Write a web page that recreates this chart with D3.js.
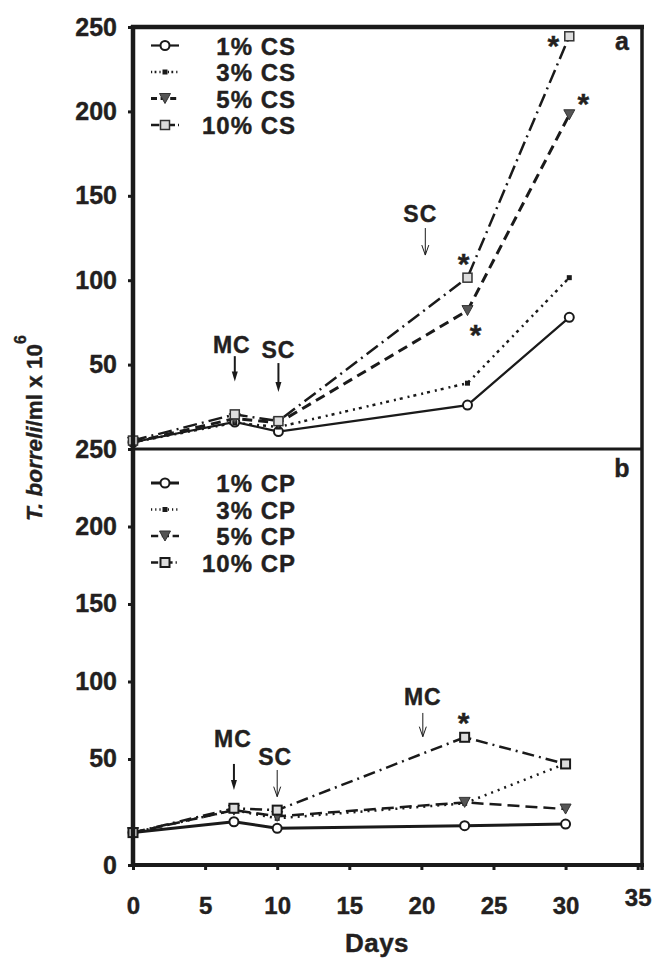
<!DOCTYPE html>
<html>
<head>
<meta charset="utf-8">
<script src="https://cdn.jsdelivr.net/npm/d3@7"></script>
<style>
  body { margin: 0; background: #fff; }
  text { font-family: "Liberation Sans", Arial, sans-serif; font-weight: bold; fill: #231f20;
         stroke: #231f20; stroke-width: 0.4px; }
</style>
</head>
<body>
<svg id="chart" width="654" height="960"></svg>
<script>
// sampling days
const days = [0, 7, 10, 23, 30];

// panel a : CS
const csLabels = ["1% CS", "3% CS", "5% CS", "10% CS"];
const cs1 = [4, 16, 10.3, 26, 78];
const cs3 = [4, 15.5, 13, 39, 101.5];
const cs5 = [4, 18, 15.5, 82, 198];
const cs10 = [5, 20.5, 16.5, 101.5, 244.5];

// panel b : CP
const cpLabels = ["1% CP", "3% CP", "5% CP", "10% CP"];
const cp1 = [2.5, 9.5, 5.3, 7, 8];
const cp3 = [2.5, 17, 11.7, 21.4, 47];
const cp5 = [2.5, 17, 13, 22, 17.7];
const cp10 = [2.5, 18.2, 17, 64, 46.8];

// ticks
const yTicks = [50, 100, 150, 200, 250];
const xTicks = [0, 5, 10, 15, 20, 25, 30, 35];

// arrows (MC / SC) in data units of each panel
const notesA = [
  { text: "MC", day: 7, label: 57, from: 55, to: 40, thick: true, dx: -3 },
  { text: "SC", day: 10, label: 53.7, from: 50.9, to: 33.8, thick: true, dx: 0 },
  { text: "SC", day: 20.1, label: 134.5, from: 130.9, to: 114.9, thick: false, dx: -5 }
];
const notesB = [
  { text: "MC", day: 7, label: 57.9, from: 46.8, to: 30, thick: true, dx: -1 },
  { text: "SC", day: 10, label: 46.1, from: 42.9, to: 25.7, thick: false, dx: -2 },
  { text: "MC", day: 20.1, label: 84.8, from: 79.7, to: 64.4, thick: false, dx: 0 }
];
// significance stars: series index, day index
const starsA = [{ s: 3, i: 4, dx: -16, dy: 3 }, { s: 2, i: 4, dx: 14, dy: -18 },
                { s: 3, i: 3, dx: -4, dy: -21 }, { s: 2, i: 3, dx: 8, dy: 17 }];
const starsB = [{ s: 3, i: 3, dx: -1, dy: -21 }];

const ink = "#1a1a1a";
const svg = d3.select("#chart");

const xA = d3.scaleLinear().domain([0, 35]).range([133, 642]);
const yA = d3.scaleLinear().domain([0, 250]).range([449, 27]);
const xB = d3.scaleLinear().domain([0, 35.3]).range([133, 642]);
const yB = d3.scaleLinear().domain([-18.4, 250]).range([865, 449]);

// line styles for 1%, 3%, 5%, 10%
const stylesA = [
  { dash: null, width: 2.2, marker: "circle" },
  { dash: "2,4,3,5", width: 2.5, marker: "dot" },
  { dash: "10,6", width: 3, marker: "tri" },
  { dash: "14,5,2,5", width: 2.5, marker: "square" }
];
const stylesB = [
  { dash: null, width: 3, marker: "circle" },
  { dash: "2,5", width: 2.5, marker: "dot" },
  { dash: "12,6", width: 2.5, marker: "tri" },
  { dash: "12,5,2,5", width: 2.5, marker: "square" }
];

function marker(g, type, x, y, heavy) {
  if (type === "circle") {
    g.append("circle").attr("cx", x).attr("cy", y).attr("r", 4.5)
      .attr("fill", "#fff").attr("stroke", ink).attr("stroke-width", 2);
  } else if (type === "dot") {
    g.append("rect").attr("x", x - 2.5).attr("y", y - 2.5).attr("width", 5).attr("height", 5)
      .attr("fill", ink);
  } else if (type === "tri") {
    g.append("path").attr("d", `M${x - 5.5},${y - 5}L${x + 5.5},${y - 5}L${x},${y + 5}Z`)
      .attr("fill", "#555").attr("stroke", "#333").attr("stroke-width", 1);
  } else {
    g.append("rect").attr("x", x - 4.5).attr("y", y - 4.5).attr("width", 9).attr("height", 9)
      .attr("fill", "#ddd").attr("stroke", heavy ? ink : "#333").attr("stroke-width", heavy ? 2 : 1.5);
  }
}

function arrow(g, x, y1, y2, thick) {
  g.append("line").attr("x1", x).attr("x2", x).attr("y1", y1).attr("y2", thick ? y2 - 6 : y2)
    .attr("stroke", ink).attr("stroke-width", thick ? 2 : 1);
  if (thick) {
    g.append("path").attr("d", `M${x - 3},${y2 - 10}L${x + 3},${y2 - 10}L${x},${y2}Z`).attr("fill", ink);
  } else {
    g.append("path").attr("d", `M${x - 3.5},${y2 - 10}L${x},${y2}L${x + 3.5},${y2 - 10}`)
      .attr("fill", "none").attr("stroke", ink).attr("stroke-width", 1);
  }
}

function drawPanel(series, styles, labels, x, y, notes, stars, legendTop, heavy) {
  const g = svg.append("g");
  const line = d3.line().x((d, i) => x(days[i])).y(d => y(d));

  series.forEach((s, k) => {
    g.append("path").datum(s).attr("d", line)
      .attr("fill", "none").attr("stroke", ink)
      .attr("stroke-width", styles[k].width)
      .attr("stroke-dasharray", styles[k].dash);
  });
  series.forEach((s, k) => {
    s.forEach((v, i) => marker(g, styles[k].marker, x(days[i]), y(v), heavy));
  });

  // annotations
  notes.forEach(n => {
    const px = x(n.day);
    g.append("text").attr("x", px + n.dx).attr("y", y(n.label))
      .attr("text-anchor", "middle").attr("font-size", 23).attr("letter-spacing", 1)
      .text(n.text);
    arrow(g, px, y(n.from), y(n.to), n.thick);
  });
  stars.forEach(st => {
    g.append("text")
      .attr("x", x(days[st.i]) + st.dx)
      .attr("y", y(series[st.s][st.i]) + st.dy + 17)
      .attr("text-anchor", "middle").attr("font-size", 30).text("*");
  });

  // legend
  labels.forEach((lab, k) => {
    const by = legendTop + k * 26.5;
    const sy = by - 9;
    g.append("line").attr("x1", 151).attr("x2", 179).attr("y1", sy).attr("y2", sy)
      .attr("stroke", ink).attr("stroke-width", styles[k].width)
      .attr("stroke-dasharray", styles[k].dash ? styles[k].dash.split(",").map(d => d * 0.6).join(",") : null);
    marker(g, styles[k].marker, 165, sy, heavy);
    g.append("text").attr("x", 296).attr("y", by).attr("text-anchor", "end")
      .attr("font-size", 24).attr("letter-spacing", 1).text(lab);
  });
  return g;
}

drawPanel([cs1, cs3, cs5, cs10], stylesA, csLabels, xA, yA, notesA, starsA, 54.5, false);
drawPanel([cp1, cp3, cp5, cp10], stylesB, cpLabels, xB, yB, notesB, starsB, 492, true);

// y axes
function styleAxis(g) {
  g.select(".domain").remove();
  g.selectAll(".tick line").attr("stroke", ink).attr("stroke-width", 3);
  g.selectAll(".tick text").attr("font-size", 25).attr("fill", "#231f20")
    .attr("font-family", "Liberation Sans, Arial, sans-serif").attr("font-weight", "bold");
}
svg.append("g").attr("transform", "translate(133,0)")
  .call(d3.axisLeft(yA).tickValues(yTicks).tickSize(5).tickPadding(11))
  .call(styleAxis);
svg.append("g").attr("transform", "translate(133,0)")
  .call(d3.axisLeft(yB).tickValues([yB.domain()[0]].concat(yTicks)).tickSize(5).tickPadding(11)
    .tickFormat(d => d < 0 ? "0" : d))
  .call(styleAxis);

// x axis
const xg = svg.append("g").attr("transform", "translate(0,865)")
  .call(d3.axisBottom(xB).tickValues(xTicks).tickSize(5).tickPadding(27))
  .call(styleAxis);
xg.selectAll(".tick text").attr("font-size", 24);
xg.selectAll(".tick").filter(d => d === 35).select("text").attr("y", 24);

// frames
const frame = [
  [133, 25, 133, 867, 4.5],
  [131, 27, 644, 27, 4.5],
  [642, 27, 642, 870, 3.5],
  [133, 449, 642, 449, 3],
  [131, 865, 644, 865, 4]
];
svg.append("g").selectAll("line").data(frame).join("line")
  .attr("x1", d => d[0]).attr("y1", d => d[1]).attr("x2", d => d[2]).attr("y2", d => d[3])
  .attr("stroke", ink).attr("stroke-width", d => d[4]);

// panel letters
svg.append("text").attr("x", 622).attr("y", 50).attr("text-anchor", "middle").attr("font-size", 25).text("a");
svg.append("text").attr("x", 622).attr("y", 477).attr("text-anchor", "middle").attr("font-size", 25).text("b");

// axis titles
svg.append("text").attr("x", 377).attr("y", 952).attr("text-anchor", "middle")
  .attr("font-size", 26).attr("letter-spacing", 0.5).text("Days");

const yt = svg.append("text").attr("transform", "translate(42,428) rotate(-90)")
  .attr("text-anchor", "middle").attr("font-size", 22.5);
yt.append("tspan").attr("font-style", "italic").text("T. borreli");
yt.append("tspan").text("/ml x 10");
yt.append("tspan").attr("dy", -16).attr("font-size", 16).text("6");
</script>
</body>
</html>
